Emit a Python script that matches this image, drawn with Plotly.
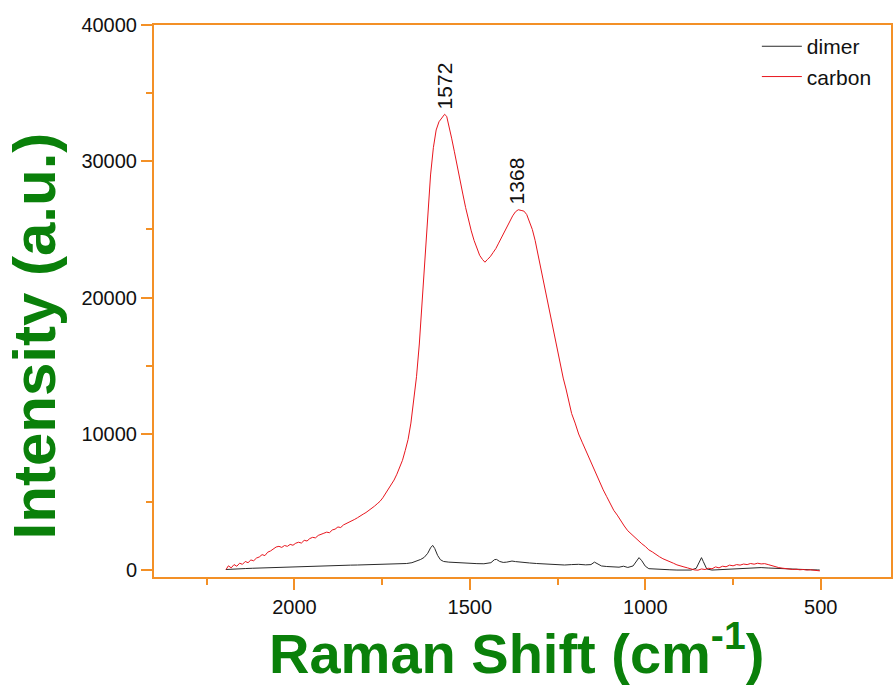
import plotly.graph_objects as go

# Raman spectra: Raman shift (cm^-1) vs intensity (a.u.)
carbon_shift = [
    2195, 2188, 2180, 2172, 2164, 2156, 2148, 2140, 2132, 2124, 2116, 2108, 2100,
    2092, 2084, 2076, 2068, 2060, 2052, 2044, 2036, 2028, 2020, 2012, 2004, 1996,
    1988, 1980, 1972, 1964, 1956, 1948, 1940, 1932, 1924, 1916, 1908, 1900, 1892,
    1884, 1876, 1868, 1860, 1852, 1844, 1836, 1828, 1820, 1812, 1804, 1796, 1788,
    1780, 1772, 1764, 1756, 1748, 1740, 1732, 1724, 1716, 1708, 1700, 1692, 1684,
    1676, 1668, 1660, 1652, 1644, 1636, 1628, 1620, 1612, 1604, 1596, 1588, 1580,
    1572, 1566, 1560, 1552, 1544, 1536, 1528, 1520, 1512, 1504, 1496, 1488, 1480,
    1472, 1464, 1457, 1450, 1442, 1434, 1426, 1418, 1410, 1402, 1394, 1386, 1378,
    1370, 1362, 1354, 1346, 1338, 1330, 1322, 1314, 1306, 1298, 1290, 1282, 1274,
    1266, 1258, 1250, 1242, 1234, 1226, 1218, 1210, 1200, 1190, 1180, 1170, 1160,
    1150, 1140, 1130, 1120, 1110, 1100, 1090, 1080, 1070, 1060, 1050, 1040, 1030,
    1020, 1010, 1000, 990, 980, 970, 960, 950, 940, 930, 920, 910, 900, 890, 880,
    870, 860, 850, 840, 830, 820, 810, 800, 790, 780, 770, 760, 750, 740, 730, 720,
    710, 700, 690, 680, 670, 660, 650, 640, 630, 620, 610, 600, 590, 580, 570, 560,
    550, 540, 530, 520, 510, 503,
]
carbon_intensity = [
    50, 330, 180, 420, 300, 520, 440, 650, 560, 760, 700, 900, 980,
    1150, 1080, 1330, 1420, 1560, 1710, 1760, 1680, 1820, 1760, 1900, 1840, 1990,
    2060, 2000, 2200, 2150, 2330, 2420, 2380, 2560, 2620, 2720, 2800, 2760, 2960,
    3020, 3180, 3140, 3330, 3420, 3560, 3620, 3740, 3860, 3960, 4120, 4240, 4380,
    4520, 4700, 4880, 5060, 5320, 5630, 5950, 6300, 6620, 7050, 7500, 8070, 8800,
    9600, 10800, 12300, 14200, 16600, 19800, 23000, 26200, 29000, 31000, 32300, 32900, 33200,
    33450, 33300, 32700, 31700, 30700, 29600, 28600, 27600, 26600, 25700, 24900, 24200, 23600,
    23100, 22800, 22600, 22800, 23000, 23300, 23600, 24000, 24400, 24900, 25300, 25700, 26000,
    26300, 26450, 26400, 26350, 26100, 25600, 25000, 24200, 23200, 22000, 21000, 20100, 19100,
    18100, 17100, 16000, 15000, 14100, 13300, 12400, 11500, 10800, 10000, 9400, 8800, 8200,
    7600, 7000, 6400, 5900, 5400, 4900, 4400, 4050, 3600, 3250, 2900, 2650, 2400,
    2200, 1950, 1750, 1500, 1350, 1150, 1000, 850, 720, 650, 520, 400, 350, 250, 180,
    80, 30, 10, 100, 60, 150, 110, 250, 180, 300, 260, 380, 330, 420, 380, 460,
    420, 500, 450, 520, 470, 490, 420, 330, 260, 200, 160, 120, 90, 60, 80, 40,
    60, 20, 40, 10, 0, -40,
]

dimer_shift = [
    2195, 2180, 2160, 2140, 2120, 2100, 2080, 2060, 2040, 2020, 2000, 1980, 1960,
    1940, 1920, 1900, 1880, 1860, 1840, 1820, 1800, 1780, 1760, 1740, 1720, 1700,
    1680, 1665, 1650, 1640, 1630, 1620, 1612, 1606, 1600, 1592, 1584, 1575, 1560,
    1540, 1520, 1500, 1480, 1460, 1440, 1430, 1424, 1415, 1405, 1395, 1380, 1370,
    1350, 1330, 1310, 1290, 1270, 1250, 1230, 1210, 1190, 1170, 1155, 1145, 1138,
    1125, 1110, 1090, 1075, 1062, 1050, 1035, 1025, 1018, 1010, 1000, 990, 970,
    950, 930, 910, 890, 870, 855, 845, 840, 835, 825, 810, 790, 770, 750, 730,
    710, 690, 670, 650, 630, 610, 590, 570, 550, 530, 510, 503,
]
dimer_intensity = [
    60, 90, 110, 130, 150, 170, 190, 200, 220, 240, 250, 270, 290,
    300, 320, 330, 350, 360, 380, 390, 400, 420, 440, 450, 470, 480,
    500, 560, 700, 800, 950, 1250, 1650, 1830, 1600, 1100, 780, 650, 600,
    560, 540, 520, 490, 480, 560, 780, 800, 650, 580, 600, 680, 640,
    570, 540, 500, 470, 430, 400, 390, 420, 440, 400, 420, 600, 500,
    320, 280, 240, 230, 300, 210, 320, 700, 930, 700, 300, 120, 80,
    60, 40, 20, 10, 20, 150, 700, 930, 650, 100, 20, 50, 80, 100, 130,
    160, 180, 200, 170, 140, 110, 80, 60, 50, 40, 30, 20,
]

peak_labels = [1572, 1368]
peak_heights = [33450, 26450]

x_ticks = [2000, 1500, 1000, 500]
y_ticks = [0, 10000, 20000, 30000, 40000]

AXIS_ORANGE = "#F39026"
TITLE_GREEN = "#0A800A"
FONT = "Arial, Liberation Sans, sans-serif"

fig = go.Figure()
fig.add_trace(go.Scatter(
    x=dimer_shift, y=dimer_intensity, mode="lines", name="dimer",
    line=dict(color="#2a2a2a", width=1),
))
fig.add_trace(go.Scatter(
    x=carbon_shift, y=carbon_intensity, mode="lines", name="carbon",
    line=dict(color="#E8161E", width=1),
))

for pk, h in zip(peak_labels, peak_heights):
    fig.add_annotation(
        x=pk, y=h, text=str(pk), showarrow=False, textangle=-90,
        xanchor="center", yanchor="bottom", yshift=3,
        font=dict(family=FONT, size=21, color="#111111"),
    )

# axis titles
fig.add_annotation(
    xref="paper", yref="paper", x=-0.162, y=0.437,
    text="<b>Intensity (a.u.)</b>", textangle=-90, showarrow=False,
    xanchor="center", yanchor="middle",
    font=dict(family=FONT, size=60, color=TITLE_GREEN),
)
fig.add_annotation(
    xref="paper", yref="paper", x=0.492, y=-0.132,
    text="<b>Raman Shift (cm<sup>-1</sup>)</b>", showarrow=False,
    xanchor="center", yanchor="middle",
    font=dict(family=FONT, size=56, color=TITLE_GREEN),
)

fig.update_layout(
    width=894, height=691,
    margin=dict(l=154, r=1, t=25, b=114),
    paper_bgcolor="white", plot_bgcolor="white",
    showlegend=True,
    legend=dict(
        x=0.818, y=0.998, xanchor="left", yanchor="top",
        bgcolor="rgba(0,0,0,0)", borderwidth=0,
        font=dict(family=FONT, size=21, color="#111111"),
        tracegroupgap=0, itemwidth=40,
    ),
    font=dict(family=FONT),
)

fig.update_xaxes(
    range=[2400, 300], tickvals=x_ticks, ticktext=[str(v) for v in x_ticks],
    showgrid=False, zeroline=False,
    showline=True, linecolor=AXIS_ORANGE, linewidth=2, mirror=True,
    ticks="outside", ticklen=11, tickwidth=2, tickcolor=AXIS_ORANGE,
    tickfont=dict(family=FONT, size=20, color="#111111"),
    minor=dict(tickvals=[2250, 1750, 1250, 750], ticks="outside",
               ticklen=6, tickwidth=2, tickcolor=AXIS_ORANGE),
)
fig.update_yaxes(
    range=[-490, 40000], tickvals=y_ticks, ticktext=[str(v) for v in y_ticks],
    showgrid=False, zeroline=False,
    showline=True, linecolor=AXIS_ORANGE, linewidth=2, mirror=True,
    ticks="outside", ticklen=11, tickwidth=2, tickcolor=AXIS_ORANGE,
    tickfont=dict(family=FONT, size=20, color="#111111"),
    minor=dict(tickvals=[5000, 15000, 25000, 35000], ticks="outside",
               ticklen=6, tickwidth=2, tickcolor=AXIS_ORANGE),
)

fig.write_html("out.html")
